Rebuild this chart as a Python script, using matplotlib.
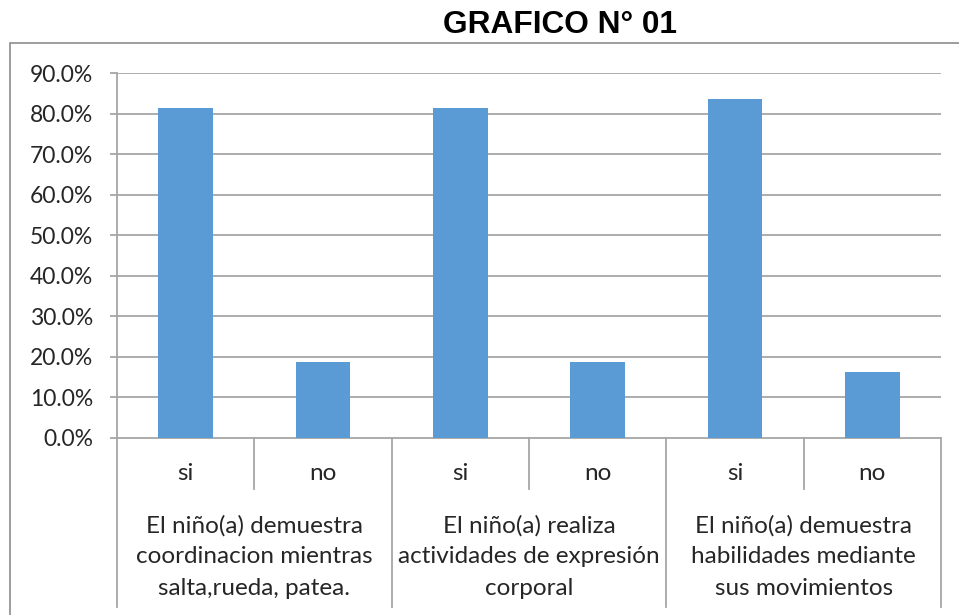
import matplotlib
matplotlib.use("Agg")
import matplotlib.pyplot as plt
from matplotlib.patches import Rectangle
from matplotlib.transforms import blended_transform_factory

# Data
answers = ["si", "no", "si", "no", "si", "no"]
groups = [
    "El niño(a) demuestra\ncoordinacion mientras\nsalta,rueda, patea.",
    "El niño(a) realiza\nactividades de expresión\ncorporal",
    "El niño(a) demuestra\nhabilidades mediante\nsus movimientos",
]
values = [0.814, 0.186, 0.814, 0.186, 0.837, 0.163]
yticks = [0.0, 0.1, 0.2, 0.3, 0.4, 0.5, 0.6, 0.7, 0.8, 0.9]

W, H = 959, 615
plt.rcParams["font.family"] = ["Lato", "DejaVu Sans"]
text_color = "#262626"
grid_color = "#a6a6a6"

fig = plt.figure(figsize=(W / 100, H / 100), dpi=100)

# outer chart border
fig.patches.append(Rectangle((10 / W, -0.1), 1.1, 1 - 43 / H + 0.1,
                             transform=fig.transFigure, fill=False,
                             edgecolor="#8c8c8c", linewidth=1.2))

fig.text(560 / W, 1 - 25 / H, "GRAFICO N° 01", ha="center", va="center",
         fontsize=22.8, fontweight="bold", family="Liberation Sans", color="black")

left, right = 117 / W, 941 / W
bottom, top = 1 - 437.7 / H, 1 - 73 / H
ax = fig.add_axes([left, bottom, right - left, top - bottom])

x = list(range(len(values)))
ax.bar(x, values, width=0.4, color="#5b9bd5", zorder=3)

ax.set_xlim(-0.5, len(values) - 0.5)
ax.set_ylim(0, 0.9)
ax.set_yticks(yticks)
ax.set_yticklabels(["%.1f%%" % (v * 100) for v in yticks])
for v in yticks[1:]:
    ax.axhline(v, color=grid_color, linewidth=1.3, zorder=1)

for s in ["top", "right"]:
    ax.spines[s].set_visible(False)
for s in ["left", "bottom"]:
    ax.spines[s].set_color(grid_color)
    ax.spines[s].set_linewidth(1.3)

ax.tick_params(axis="y", length=5, width=1.3, color=grid_color,
               labelsize=16.5, labelcolor=text_color, pad=12)
ax.set_xticks([])

ax_h = (top - bottom) * H
tr = blended_transform_factory(ax.transData, ax.transAxes)

# category labels and separators
for i, a in enumerate(answers):
    ax.text(i, -35.3 / ax_h, a, transform=tr, ha="center", va="center",
            fontsize=17.5, color=text_color)
for i in range(len(answers) + 1):
    xb = i - 0.5
    if i % 2 == 0:
        ax.plot([xb, xb], [0, -169 / ax_h], transform=tr, color=grid_color,
                linewidth=1.3, clip_on=False)
    else:
        ax.plot([xb, xb], [0, -51 / ax_h], transform=tr, color=grid_color,
                linewidth=1.3, clip_on=False)

for j, g in enumerate(groups):
    ax.text(2 * j + 0.5, -119 / ax_h, g, transform=tr, ha="center", va="center",
            fontsize=17.5, color=text_color, linespacing=1.6, multialignment="center")

fig.savefig("out.png", dpi=100)
